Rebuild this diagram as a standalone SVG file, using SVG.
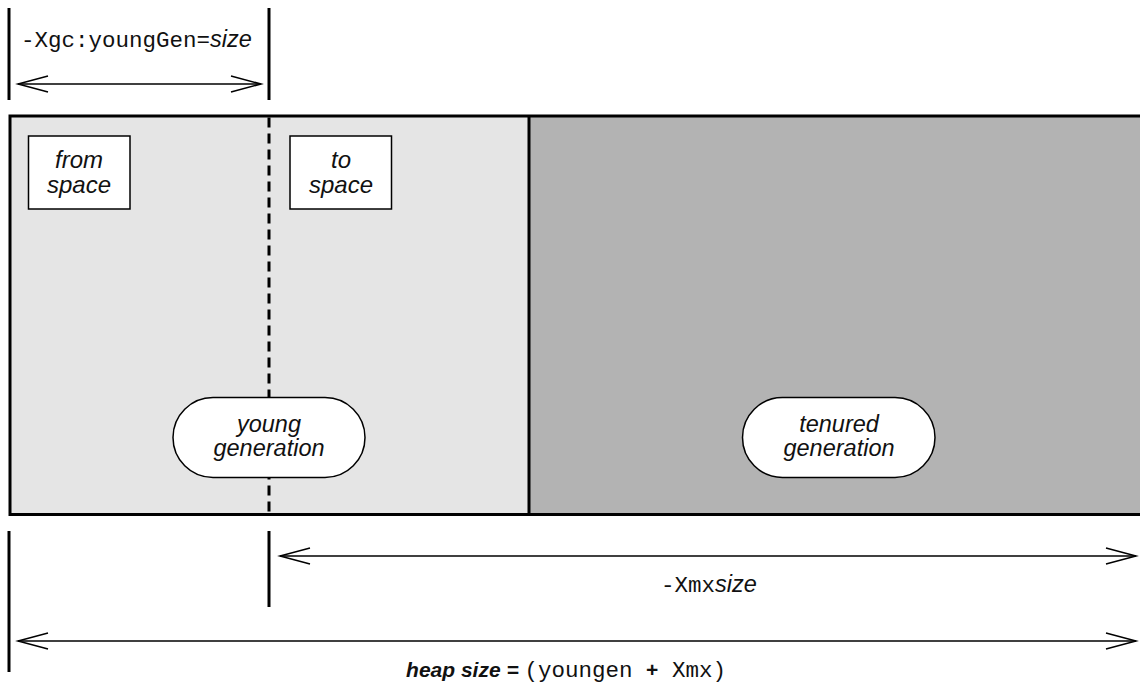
<svg xmlns="http://www.w3.org/2000/svg" width="1140" height="686" viewBox="0 0 1140 686">
<style>
.bar{stroke:#000;stroke-width:3;fill:none}
.dim{stroke:#000;stroke-width:1.5;fill:none}
.box{fill:#fff;stroke:#000;stroke-width:1.5}
.it{font-family:"Liberation Sans",Arial,sans-serif;font-style:italic;font-size:24px;fill:#111}
.it2{font-family:"Liberation Sans",Arial,sans-serif;font-style:italic;font-size:23.5px;fill:#111}
.mono{font-family:"Liberation Mono","Courier New",monospace;font-style:normal;font-weight:normal;font-size:22.5px}
.sz{font-family:"Liberation Sans",Arial,sans-serif;font-style:italic;font-size:23.5px}
.lbl{fill:#111}
.bi{font-family:"Liberation Sans",Arial,sans-serif;font-style:italic;font-weight:bold;font-size:21px}
.b{font-family:"Liberation Sans",Arial,sans-serif;font-weight:bold;font-size:21px}
</style>
<defs>
<marker id="chev" viewBox="0 0 30 16" refX="30" refY="8" markerWidth="30" markerHeight="16" markerUnits="userSpaceOnUse" orient="auto-start-reverse" style="overflow:visible">
<path d="M0,0 L30,8 L0,16" fill="none" stroke="#000" stroke-width="1.5"/>
</marker>
</defs>
<rect width="1140" height="686" fill="#fff"/>

<g id="heap">
<rect x="10" y="116" width="519" height="398.5" fill="#e5e5e5"/>
<rect x="529" y="116" width="620" height="398.5" fill="#b3b3b3"/>
<path class="bar" d="M1145,116 H10 V514.5 H1145"/>
<line class="bar" x1="529" y1="116" x2="529" y2="514.5"/>
<line x1="269" y1="117.5" x2="269" y2="513" stroke="#000" stroke-width="3" stroke-dasharray="10,6"/>
</g>

<g id="from-space">
<rect class="box" x="28.5" y="136" width="101.5" height="73"/>
<text class="it" text-anchor="middle"><tspan x="79" y="168">from</tspan><tspan x="79" y="193">space</tspan></text>
</g>

<g id="to-space">
<rect class="box" x="290" y="136" width="101.5" height="73"/>
<text class="it" text-anchor="middle"><tspan x="341" y="168">to</tspan><tspan x="341" y="193">space</tspan></text>
</g>

<g id="young-generation">
<rect class="box" x="173" y="397.5" width="192" height="80" rx="40" ry="40"/>
<text class="it2" text-anchor="middle"><tspan x="269" y="432">young</tspan><tspan x="269" y="456">generation</tspan></text>
</g>

<g id="tenured-generation">
<rect class="box" x="742.5" y="397.5" width="192.5" height="80" rx="40" ry="40"/>
<text class="it2" text-anchor="middle"><tspan x="839" y="432">tenured</tspan><tspan x="839" y="456">generation</tspan></text>
</g>

<g id="connectors">
<line class="bar" x1="9" y1="8" x2="9" y2="100"/>
<line class="bar" x1="269" y1="8" x2="269" y2="100"/>
<line class="dim" x1="18" y1="84" x2="261" y2="84" marker-start="url(#chev)" marker-end="url(#chev)"/>
<line class="bar" x1="9" y1="531" x2="9" y2="672"/>
<line class="bar" x1="269" y1="531" x2="269" y2="607"/>
<line class="dim" x1="280" y1="556" x2="1136" y2="556" marker-start="url(#chev)" marker-end="url(#chev)"/>
<line class="dim" x1="18" y1="641" x2="1136" y2="641" marker-start="url(#chev)" marker-end="url(#chev)"/>
</g>

<g id="labels">
<text class="lbl" x="21" y="47"><tspan class="mono">-Xgc:youngGen=</tspan><tspan class="sz">size</tspan></text>
<text class="lbl" x="709" y="592" text-anchor="middle"><tspan class="mono">-Xmx</tspan><tspan class="sz">size</tspan></text>
<text class="lbl" x="566" y="677" text-anchor="middle"><tspan class="bi">heap size = </tspan><tspan class="mono">(youngen </tspan><tspan class="b">+</tspan><tspan class="mono"> Xmx)</tspan></text>
</g>
</svg>
